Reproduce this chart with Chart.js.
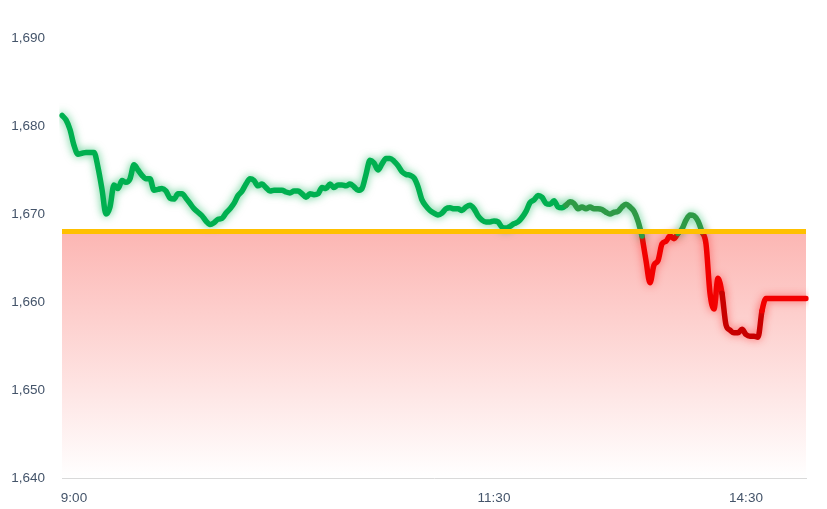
<!DOCTYPE html>
<html>
<head>
<meta charset="utf-8">
<script src="https://cdn.jsdelivr.net/npm/chart.js@4.4.1/dist/chart.umd.min.js"></script>
<style>
  html, body { margin: 0; padding: 0; background: #ffffff; }
  #wrap { width: 827px; height: 509px; }
</style>
</head>
<body>
<div id="wrap"><canvas id="c" width="827" height="509"></canvas></div>
<script>
// ---- data ----
const prices = [
  1681.2, 1680.7, 1679.6, 1677.8, 1676.8, 1676.9, 1677.0, 1677.0, 1677.0, 1675.3,
  1672.8, 1670.0, 1670.8, 1673.3, 1672.9, 1673.8, 1673.6, 1674.0, 1675.6, 1675.0,
  1674.4, 1674.0, 1674.0, 1672.7, 1672.8, 1672.9, 1672.6, 1671.8, 1671.7, 1672.3,
  1672.3, 1671.8, 1671.2, 1670.6, 1670.2, 1669.8, 1669.2, 1668.8, 1669.0, 1669.4,
  1669.5, 1670.1, 1670.6, 1671.2, 1672.1, 1672.6, 1673.4, 1674.0, 1673.8, 1673.2,
  1673.4, 1673.0, 1672.6, 1672.7, 1672.7, 1672.7, 1672.5, 1672.4, 1672.6, 1672.6,
  1672.3, 1671.9, 1672.3, 1672.2, 1672.3, 1673.0, 1672.9, 1673.4, 1673.0, 1673.3,
  1673.3, 1673.2, 1673.4, 1673.1, 1672.7, 1672.9, 1674.5, 1676.1, 1675.8, 1675.0,
  1675.7, 1676.3, 1676.3, 1676.0, 1675.5, 1674.8, 1674.5, 1674.4, 1674.1, 1673.1,
  1671.6, 1670.9, 1670.4, 1670.1, 1669.9, 1670.1, 1670.6, 1670.7, 1670.6, 1670.6,
  1670.4, 1670.8, 1671.0, 1670.6, 1669.8, 1669.3, 1669.1, 1669.1, 1669.2, 1669.1,
  1668.5, 1668.4, 1668.6, 1668.9, 1669.1, 1669.6, 1670.3, 1671.3, 1671.6, 1672.1,
  1671.9, 1671.2, 1671.1, 1671.5, 1670.8, 1670.7, 1671.0, 1671.4, 1671.2, 1670.6,
  1670.8, 1670.6, 1670.8, 1670.6, 1670.6, 1670.5, 1670.2, 1670.0, 1670.2, 1670.3,
  1670.8, 1671.1, 1670.8, 1670.3, 1669.2, 1667.5, 1664.7, 1662.2, 1664.2, 1664.7,
  1666.6, 1666.9, 1667.5, 1667.2, 1667.8, 1668.3, 1669.3, 1669.9, 1669.8, 1669.2,
  1668.0, 1666.6, 1661.0, 1659.2, 1662.7, 1661.0, 1657.4, 1656.8, 1656.5, 1656.5,
  1656.9, 1656.3, 1656.1, 1656.1, 1656.0, 1659.0, 1660.4, 1660.4, 1660.4, 1660.4,
  1660.4, 1660.4, 1660.4, 1660.4, 1660.4, 1660.4, 1660.4
];
const baseline = 1668;                       // previous close / reference level
const tickLabels = ['9:00', '11:30', '14:30'];
const tickIndex = [3, 108, 171];
const yTicks = [1640, 1650, 1660, 1670, 1680, 1690];

// ---- build category labels ----
const labels = prices.map(() => '');
tickIndex.forEach((k, j) => { labels[k] = tickLabels[j]; });

// ---- split into above/below segments ----
const n = prices.length;
const segUp = i => (prices[i] + prices[i + 1]) / 2 >= baseline;
const greenData = prices.map((v, j) =>
  ((j > 0 && segUp(j - 1)) || (j < n - 1 && segUp(j))) ? v : null);
const redData = prices.map((v, j) =>
  ((j > 0 && !segUp(j - 1)) || (j < n - 1 && !segUp(j))) ? v : null);
const baseData = prices.map(() => baseline);

const glowPlugin = {
  id: 'glow',
  beforeDatasetDraw(chart, args) {
    const ds = chart.data.datasets[args.index];
    if (ds.glow) {
      chart.ctx.save();
      chart.ctx.shadowColor = ds.glow;
      chart.ctx.shadowBlur = 9;
    }
  },
  afterDatasetDraw(chart, args) {
    const ds = chart.data.datasets[args.index];
    if (ds.glow) chart.ctx.restore();
  }
};

const textColor = '#44546A';
const font = { family: 'Liberation Sans, Arial, sans-serif', size: 13.5 };

new Chart(document.getElementById('c'), {
  type: 'line',
  data: {
    labels: labels,
    datasets: [
      {
        label: 'base',
        data: baseData,
        borderColor: '#FFC000',
        borderWidth: 5,
        pointRadius: 0,
        fill: 'start',
        backgroundColor: (ctx) => {
          const chart = ctx.chart;
          const a = chart.chartArea;
          if (!a) return 'rgba(252,184,181,1)';
          const y0 = chart.scales.y.getPixelForValue(baseline);
          const g = chart.ctx.createLinearGradient(0, y0, 0, a.bottom);
          g.addColorStop(0, 'rgb(252,182,179)');
          g.addColorStop(1, 'rgb(255,255,255)');
          return g;
        }
      },
      {
        label: 'up',
        data: greenData,
        glow: 'rgba(0,176,80,0.65)',
        borderWidth: 5.5,
        pointRadius: 0,
        fill: false,
        cubicInterpolationMode: 'monotone',
        borderCapStyle: 'round',
        borderJoinStyle: 'round',
        borderColor: '#00B050',
        segment: {
          borderColor: c => c.p0DataIndex >= 126 ? '#2E9A46' : '#00B050'
        }
      },
      {
        label: 'down',
        data: redData,
        glow: 'rgba(255,40,40,0.6)',
        borderWidth: 5.5,
        pointRadius: 0,
        fill: false,
        cubicInterpolationMode: 'monotone',
        borderCapStyle: 'round',
        borderJoinStyle: 'round',
        borderColor: '#FF0000',
        segment: {
          borderColor: c => (c.p0DataIndex >= 165 && c.p0DataIndex <= 174) ? '#C80000' : '#F20000'
        }
      }
    ]
  },
  options: {
    responsive: false,
    animation: false,
    devicePixelRatio: 1,
    layout: { padding: { top: 38, right: 21, bottom: 4, left: 0 } },
    plugins: {
      legend: { display: false },
      tooltip: { enabled: false },
      filler: { drawTime: 'beforeDatasetsDraw' }
    },
    scales: {
      x: {
        type: 'category',
        offset: false,
        afterFit: s => { s.height = 27; },
        grid: { display: false, drawTicks: false },
        border: { display: true, color: '#D9D9D9', width: 1 },
        ticks: {
          autoSkip: false,
          maxRotation: 0,
          minRotation: 0,
          padding: 12,
          color: textColor,
          font: font
        }
      },
      y: {
        min: yTicks[0],
        max: yTicks[yTicks.length - 1],
        afterFit: s => { s.width = 62; },
        afterBuildTicks: s => { s.ticks = yTicks.map(v => ({ value: v })); },
        grid: { display: false, drawTicks: false },
        border: { display: false },
        ticks: {
          padding: 17,
          color: textColor,
          font: font,
          callback: v => v.toLocaleString('en-US')
        }
      }
    }
  },
  plugins: [glowPlugin]
});
</script>
</body>
</html>
